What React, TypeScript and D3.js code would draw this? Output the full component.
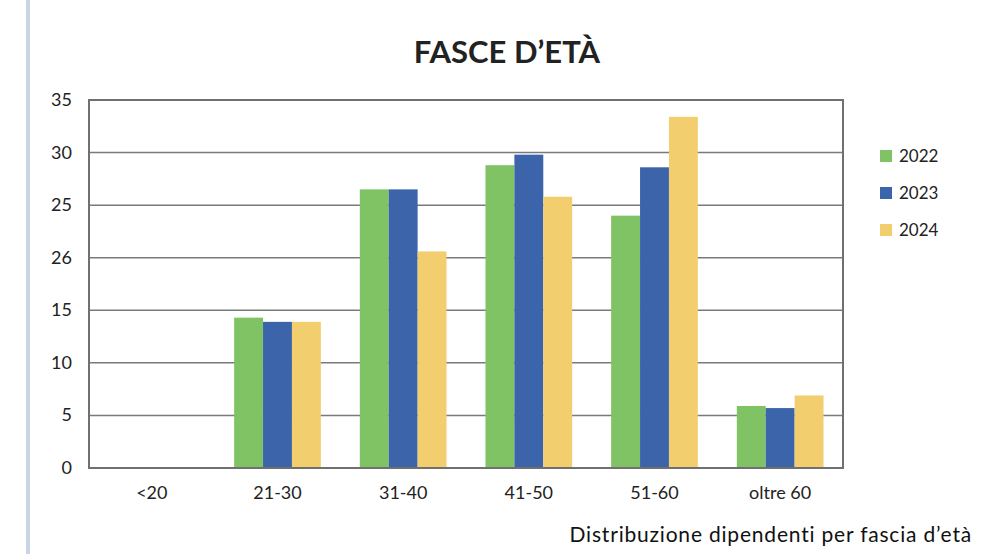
import * as d3 from 'd3';

const categories = ['<20', '21-30', '31-40', '41-50', '51-60', 'oltre 60'];
const years = ['2022', '2023', '2024'];
const values2022 = [0, 14.3, 26.5, 28.8, 24.0, 5.9];
const values2023 = [0, 13.9, 26.5, 29.8, 28.6, 5.7];
const values2024 = [0, 13.9, 20.6, 25.8, 33.4, 6.9];
const yTicks = [0, 5, 10, 15, 20, 25, 30, 35];
const yTickLabels = ['0', '5', '10', '15', '26', '25', '30', '35'];
const colors = ['#7FC365', '#3C64AA', '#F3CE6E'];

const series = [values2022, values2023, values2024];
const font = "Lato, 'Open Sans', sans-serif";

export default function App() {
  const width = 989;
  const height = 554;
  const plot = { left: 89, right: 843, top: 100, bottom: 468 };

  const x = d3.scaleBand().domain(categories).range([plot.left, plot.right]).paddingInner(0.31).paddingOuter(0.155);
  const xSub = d3.scaleBand().domain(years).range([0, x.bandwidth()]);
  const y = d3.scaleLinear().domain([0, 35]).range([plot.bottom, plot.top]);

  return (
    <svg width={width} height={height} style={{ position: 'absolute', left: 0, top: 0, background: '#fff' }}>
      <rect x={26} y={0} width={4} height={height} fill="#C8D5E4" />
      <text x={507} y={63} textAnchor="middle" fontFamily={font} fontWeight="bold" fontSize={31} fill="#222">
        FASCE D’ETÀ
      </text>

      {yTicks.map((t, i) => (
        <g key={t}>
          {t > 0 && t < 35 && (
            <line x1={plot.left} x2={plot.right} y1={y(t)} y2={y(t)} stroke="#7a7a7a" strokeWidth={1.5} />
          )}
          <text x={72} y={y(t) + 6} textAnchor="end" fontFamily={font} fontSize={18} fill="#222">
            {yTickLabels[i]}
          </text>
        </g>
      ))}

      {categories.map((c, ci) => (
        <g key={c}>
          {series.map((s, si) => (
            <rect
              key={si}
              x={(x(c) as number) + (xSub(years[si]) as number)}
              y={y(s[ci])}
              width={xSub.bandwidth()}
              height={plot.bottom - y(s[ci])}
              fill={colors[si]}
            />
          ))}
          <text x={(x(c) as number) + x.bandwidth() / 2} y={499} textAnchor="middle" fontFamily={font} fontSize={18} fill="#222">
            {c}
          </text>
        </g>
      ))}

      <rect
        x={plot.left}
        y={plot.top}
        width={plot.right - plot.left}
        height={plot.bottom - plot.top}
        fill="none"
        stroke="#707070"
        strokeWidth={2}
      />

      {years.map((yr, i) => (
        <g key={yr} transform={`translate(880, ${150 + i * 37})`}>
          <rect x={0} y={0} width={12} height={12} fill={colors[i]} />
          <text x={19} y={12} fontFamily={font} fontSize={17} fill="#222">
            {yr}
          </text>
        </g>
      ))}

      <text x={972} y={542} textAnchor="end" fontFamily={font} fontSize={21} letterSpacing={0.8} fill="#111">
        Distribuzione dipendenti per fascia d’età
      </text>
    </svg>
  );
}
